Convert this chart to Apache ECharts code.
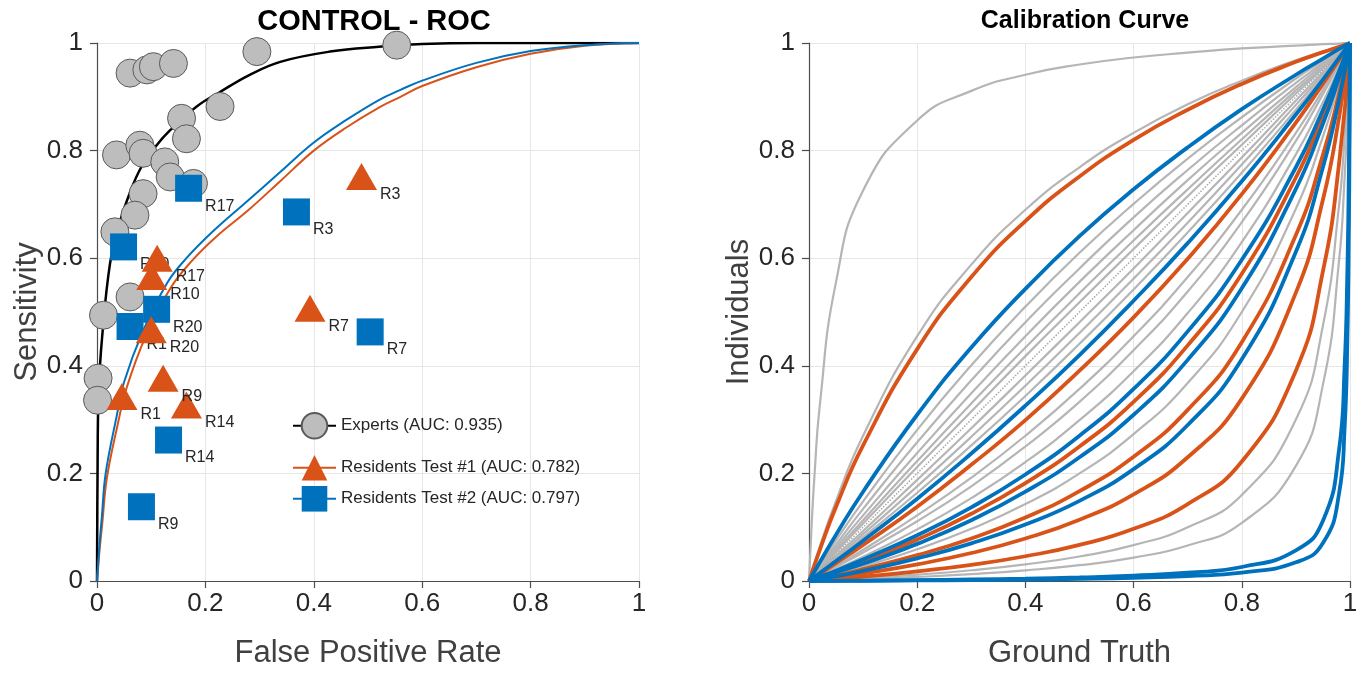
<!DOCTYPE html>
<html><head><meta charset="utf-8">
<script src="https://cdn.jsdelivr.net/npm/echarts@6/dist/echarts.min.js"></script>
<style>html,body{margin:0;padding:0;background:#fff}#c{width:1368px;height:677px}</style>
</head><body><div id="c"></div>
<script>
// ---------- ROC panel data ----------
const expertRocFpr  = [0, 0.001, 0.003, 0.01, 0.024, 0.04, 0.06, 0.082, 0.11, 0.135, 0.184, 0.227, 0.28, 0.338, 0.43, 0.52, 0.6, 0.7, 1];
const expertRocSens = [0, 0.2, 0.35, 0.46, 0.59, 0.66, 0.72, 0.77, 0.81, 0.838, 0.882, 0.909, 0.94, 0.965, 0.984, 0.993, 0.998, 1, 1];
const test1RocFpr  = [0, 0.002, 0.005, 0.01, 0.018, 0.038, 0.055, 0.09, 0.136, 0.175, 0.22, 0.28, 0.34, 0.4, 0.46, 0.52, 0.56, 0.6, 0.7, 0.8, 0.9, 1];
const test1RocSens = [0, 0.025, 0.06, 0.11, 0.19, 0.29, 0.36, 0.455, 0.545, 0.595, 0.64, 0.69, 0.745, 0.8, 0.843, 0.88, 0.9, 0.92, 0.955, 0.98, 0.995, 1];
const test2RocFpr  = [0, 0.002, 0.004, 0.009, 0.016, 0.036, 0.05, 0.085, 0.13, 0.165, 0.214, 0.276, 0.338, 0.4, 0.46, 0.52, 0.56, 0.6, 0.7, 0.8, 0.9, 1];
const test2RocSens = [0, 0.03, 0.06, 0.12, 0.2, 0.305, 0.37, 0.465, 0.555, 0.6, 0.65, 0.705, 0.76, 0.815, 0.857, 0.894, 0.913, 0.93, 0.963, 0.985, 0.996, 1];

const expertPtFpr  = [0.061, 0.092, 0.104, 0.141, 0.295, 0.553, 0.227, 0.156, 0.165, 0.036, 0.079, 0.085, 0.125, 0.135, 0.178, 0.085, 0.070, 0.033, 0.012, 0.061, 0.002, 0.001];
const expertPtSens = [0.944, 0.950, 0.956, 0.962, 0.984, 0.996, 0.882, 0.860, 0.822, 0.792, 0.810, 0.795, 0.779, 0.751, 0.739, 0.720, 0.680, 0.649, 0.494, 0.528, 0.377, 0.336];

const test1Ids  = ['R3', 'R7', 'R17', 'R10', 'R20', 'R1', 'R9', 'R14'];
const test1Fpr  = [0.488, 0.393, 0.111, 0.101, 0.100, 0.046, 0.122, 0.165];
const test1Sens = [0.752, 0.507, 0.600, 0.566, 0.467, 0.343, 0.377, 0.327];
const test2Ids  = ['R17', 'R3', 'R10', 'R20', 'R1', 'R7', 'R14', 'R9'];
const test2Fpr  = [0.169, 0.368, 0.049, 0.110, 0.061, 0.504, 0.132, 0.082];
const test2Sens = [0.730, 0.686, 0.621, 0.505, 0.473, 0.463, 0.262, 0.138];

const legendNames = ['Experts (AUC: 0.935)', 'Residents Test #1 (AUC: 0.782)', 'Residents Test #2 (AUC: 0.797)'];

// ---------- Calibration panel data ----------
const calibXCoarse = [0, 0.02, 0.05, 0.1, 0.2, 0.3, 0.4, 0.5, 0.6, 0.7, 0.8, 0.9, 0.95, 0.98, 1];
const calibXFine   = [0, 0.005, 0.01, 0.02, 0.05, 0.1, 0.2, 0.3, 0.4, 0.5, 0.6, 0.7, 0.8, 0.9, 0.95, 0.98, 0.99, 0.995, 0.998, 0.999, 1];
const grayCurvesCoarse = [
  [0, 0.064, 0.149, 0.270, 0.455, 0.588, 0.690, 0.769, 0.833, 0.886, 0.930, 0.968, 0.984, 0.994, 1],
  [0, 0.031, 0.076, 0.148, 0.281, 0.401, 0.510, 0.610, 0.701, 0.785, 0.862, 0.934, 0.967, 0.987, 1],
  [0, 0.028, 0.068, 0.134, 0.258, 0.373, 0.481, 0.581, 0.676, 0.764, 0.847, 0.926, 0.963, 0.986, 1],
  [0, 0.025, 0.062, 0.122, 0.238, 0.349, 0.455, 0.556, 0.652, 0.745, 0.833, 0.918, 0.960, 0.984, 1],
  [0, 0.023, 0.057, 0.113, 0.223, 0.330, 0.434, 0.535, 0.633, 0.728, 0.821, 0.912, 0.956, 0.983, 1],
  [0, 0.021, 0.054, 0.107, 0.212, 0.315, 0.418, 0.518, 0.617, 0.715, 0.811, 0.906, 0.953, 0.981, 1],
  [0, 0.019, 0.047, 0.093, 0.188, 0.284, 0.382, 0.481, 0.581, 0.684, 0.787, 0.893, 0.946, 0.978, 1],
  [0, 0.017, 0.043, 0.087, 0.176, 0.268, 0.363, 0.461, 0.562, 0.666, 0.774, 0.885, 0.942, 0.977, 1],
  [0, 0.016, 0.040, 0.081, 0.164, 0.252, 0.344, 0.441, 0.542, 0.648, 0.759, 0.876, 0.937, 0.975, 1],
  [0, 0.011, 0.028, 0.058, 0.122, 0.192, 0.270, 0.357, 0.455, 0.565, 0.690, 0.833, 0.913, 0.965, 1],
  [0, 0.010, 0.026, 0.053, 0.111, 0.176, 0.250, 0.333, 0.429, 0.538, 0.667, 0.818, 0.905, 0.961, 1],
  [0, 0.009, 0.022, 0.045, 0.096, 0.154, 0.221, 0.299, 0.390, 0.498, 0.630, 0.793, 0.890, 0.954, 1],
  [0, 0.005, 0.013, 0.027, 0.059, 0.097, 0.143, 0.200, 0.273, 0.368, 0.500, 0.692, 0.826, 0.925, 1]
];
const grayCurvesFine = [
  [0, 0.107, 0.194, 0.327, 0.556, 0.726, 0.856, 0.911, 0.941, 0.960, 0.973, 0.982, 0.990, 0.995, 0.998, 0.999, 1, 1, 1, 1, 1],
  [0, 0.0002, 0.0005, 0.001, 0.0025, 0.0053, 0.0118, 0.020, 0.031, 0.0455, 0.0667, 0.100, 0.160, 0.300, 0.475, 0.700, 0.825, 0.905, 0.960, 0.979, 1],
  [0, 0.0002, 0.0003, 0.0006, 0.0016, 0.0034, 0.0075, 0.0128, 0.0198, 0.0294, 0.0435, 0.066, 0.108, 0.214, 0.365, 0.598, 0.750, 0.858, 0.938, 0.968, 1]
];
const diagX = [0, 1];
const diagY = [0, 1];
const orangeCurvesCoarse = [
  [0, 0.058, 0.138, 0.252, 0.431, 0.565, 0.669, 0.752, 0.820, 0.876, 0.924, 0.965, 0.983, 0.993, 1],
  [0, 0.013, 0.033, 0.067, 0.138, 0.216, 0.299, 0.391, 0.490, 0.599, 0.719, 0.852, 0.924, 0.969, 1],
  [0, 0.007, 0.017, 0.036, 0.077, 0.125, 0.182, 0.250, 0.333, 0.438, 0.571, 0.750, 0.864, 0.942, 1],
  [0, 0.004, 0.010, 0.022, 0.048, 0.079, 0.118, 0.167, 0.231, 0.318, 0.444, 0.643, 0.792, 0.907, 1],
  [0, 0.003, 0.007, 0.014, 0.031, 0.052, 0.079, 0.114, 0.161, 0.230, 0.339, 0.536, 0.709, 0.863, 1],
  [0, 0.001, 0.004, 0.008, 0.018, 0.030, 0.046, 0.067, 0.097, 0.143, 0.222, 0.391, 0.576, 0.778, 1]
];
const blueCurvesCoarse = [
  [0, 0.035, 0.086, 0.166, 0.309, 0.434, 0.543, 0.641, 0.728, 0.806, 0.877, 0.941, 0.971, 0.989, 1],
  [0, 0.015, 0.037, 0.075, 0.153, 0.237, 0.326, 0.420, 0.521, 0.628, 0.743, 0.867, 0.932, 0.973, 1],
  [0, 0.008, 0.019, 0.040, 0.085, 0.137, 0.198, 0.270, 0.357, 0.464, 0.597, 0.769, 0.876, 0.948, 1],
  [0, 0.006, 0.016, 0.032, 0.069, 0.113, 0.166, 0.230, 0.309, 0.411, 0.544, 0.729, 0.850, 0.936, 1],
  [0, 0.004, 0.009, 0.019, 0.042, 0.070, 0.105, 0.149, 0.208, 0.290, 0.412, 0.612, 0.769, 0.896, 1]
];
const blueCurvesFine = [
  [0, 0, 0.0001, 0.0001, 0.0004, 0.0007, 0.0017, 0.0029, 0.0044, 0.0066, 0.0099, 0.0153, 0.026, 0.057, 0.112, 0.246, 0.398, 0.570, 0.769, 0.869, 1],
  [0, 0, 0, 0.0001, 0.0002, 0.0004, 0.001, 0.0017, 0.0027, 0.004, 0.006, 0.0093, 0.0157, 0.0347, 0.0706, 0.164, 0.284, 0.443, 0.666, 0.800, 1]
];

// ---------- styling ----------
const FONT = "'Liberation Sans', Arial, Helvetica, sans-serif";
const C_GRAY = '#b5b5b5', C_ORANGE = '#D95319', C_BLUE = '#0072BD';
const zip = (xs, ys) => xs.map((x, i) => [x, ys[i]]);
const ptItems = (xs, ys, ids) => xs.map((x, i) => ({ value: [x, ys[i]], name: ids[i] }));

function mkAxis(gridIndex, name, isX) {
  return {
    type: 'value', gridIndex, min: 0, max: 1, interval: 0.2,
    name, nameLocation: 'middle', nameGap: isX ? 57 : 53,
    nameTextStyle: { fontFamily: FONT, fontSize: 31, color: '#404040' },
    axisLine: { show: true, onZero: false, lineStyle: { color: '#4d4d4d', width: 1.2 } },
    axisTick: { show: true, length: 7, lineStyle: { color: '#4d4d4d', width: 1.2 } },
    axisLabel: { fontFamily: FONT, fontSize: 26, color: '#262626', margin: isX ? 10 : 14 },
    splitLine: { show: true, lineStyle: { color: '#e6e6e6', width: 1 } }
  };
}

const series = [];
// ROC lines (left panel)
series.push({
  name: legendNames[0], type: 'line', xAxisIndex: 0, yAxisIndex: 0,
  data: zip(expertRocFpr, expertRocSens), smooth: 0.4,
  symbol: 'circle', symbolSize: 28, showSymbol: false,
  lineStyle: { color: '#000', width: 2.5 },
  itemStyle: { color: '#bdbdbd', borderColor: '#5a5a5a', borderWidth: 1 }, z: 2
});
series.push({
  name: legendNames[1], type: 'line', xAxisIndex: 0, yAxisIndex: 0,
  data: zip(test1RocFpr, test1RocSens), smooth: 0.4,
  symbol: 'triangle', symbolSize: 28, showSymbol: false,
  lineStyle: { color: C_ORANGE, width: 2 },
  itemStyle: { color: C_ORANGE }, z: 2
});
series.push({
  name: legendNames[2], type: 'line', xAxisIndex: 0, yAxisIndex: 0,
  data: zip(test2RocFpr, test2RocSens), smooth: 0.4,
  symbol: 'rect', symbolSize: 28, showSymbol: false,
  lineStyle: { color: C_BLUE, width: 2 },
  itemStyle: { color: C_BLUE }, z: 2
});
const lbl = { show: true, position: 'right', distance: 3, offset: [0, 18], formatter: '{b}',
  fontFamily: FONT, fontSize: 16, color: '#262626' };
series.push({
  name: 'experts-pts', type: 'scatter', xAxisIndex: 0, yAxisIndex: 0,
  data: zip(expertPtFpr, expertPtSens), symbol: 'circle', symbolSize: 28,
  itemStyle: { color: '#bdbdbd', borderColor: '#5a5a5a', borderWidth: 1, opacity: 1 }, z: 3, clip: false
});
series.push({
  name: 'test2-pts', type: 'scatter', xAxisIndex: 0, yAxisIndex: 0,
  data: ptItems(test2Fpr, test2Sens, test2Ids), symbol: 'rect', symbolSize: 27,
  itemStyle: { color: C_BLUE, opacity: 1 }, label: lbl, z: 4, clip: false
});
series.push({
  name: 'test1-pts', type: 'scatter', xAxisIndex: 0, yAxisIndex: 0,
  data: ptItems(test1Fpr, test1Sens, test1Ids), symbol: 'triangle', symbolSize: [31, 27],
  itemStyle: { color: C_ORANGE, opacity: 1 }, label: lbl, z: 5, clip: false
});

// Calibration curves (right panel)
const calLine = (xs, ys, color, width, z, type) => ({
  type: 'line', xAxisIndex: 1, yAxisIndex: 1, data: zip(xs, ys),
  smooth: 0.5, showSymbol: false, symbol: 'none', silent: true,
  lineStyle: { color, width, type: type || 'solid' }, z
});
grayCurvesCoarse.forEach(c => series.push(calLine(calibXCoarse, c, C_GRAY, 2.2, 2)));
grayCurvesFine.forEach(c => series.push(calLine(calibXFine, c, C_GRAY, 2.2, 2)));
series.push(calLine(diagX, diagY, '#a8a8a8', 1.5, 2, 'dotted'));
orangeCurvesCoarse.forEach(c => series.push(calLine(calibXCoarse, c, C_ORANGE, 3.8, 3)));
blueCurvesCoarse.forEach(c => series.push(calLine(calibXCoarse, c, C_BLUE, 3.8, 4)));
blueCurvesFine.forEach(c => series.push(calLine(calibXFine, c, C_BLUE, 3.8, 4)));

const legendCommon = { left: 287, itemWidth: 43, itemHeight: 32, itemGap: 0, selectedMode: false,
  textStyle: { fontFamily: FONT, fontSize: 17, color: '#262626' } };

const option = {
  animation: false,
  backgroundColor: '#fff',
  title: [
    { text: 'CONTROL - ROC', left: 369, top: 2, textAlign: 'center',
      textStyle: { fontFamily: FONT, fontSize: 29, fontWeight: 'bold', color: '#000' } },
    { text: 'Calibration Curve', left: 1080, top: 4, textAlign: 'center',
      textStyle: { fontFamily: FONT, fontSize: 25, fontWeight: 'bold', color: '#000' } }
  ],
  legend: [
    Object.assign({ data: [legendNames[0]], top: 407 }, legendCommon),
    Object.assign({ data: [legendNames[1]], top: 450 }, legendCommon),
    Object.assign({ data: [legendNames[2]], top: 481 }, legendCommon)
  ],
  grid: [
    { left: 97, right: 729, top: 43, bottom: 96 },
    { left: 809, right: 18, top: 43, bottom: 96 }
  ],
  xAxis: [mkAxis(0, 'False Positive Rate', true), mkAxis(1, 'Ground Truth', true)],
  yAxis: [mkAxis(0, 'Sensitivity', false), mkAxis(1, 'Individuals', false)],
  series
};
const chart = echarts.init(document.getElementById('c'));
chart.setOption(option);
</script></body></html>
